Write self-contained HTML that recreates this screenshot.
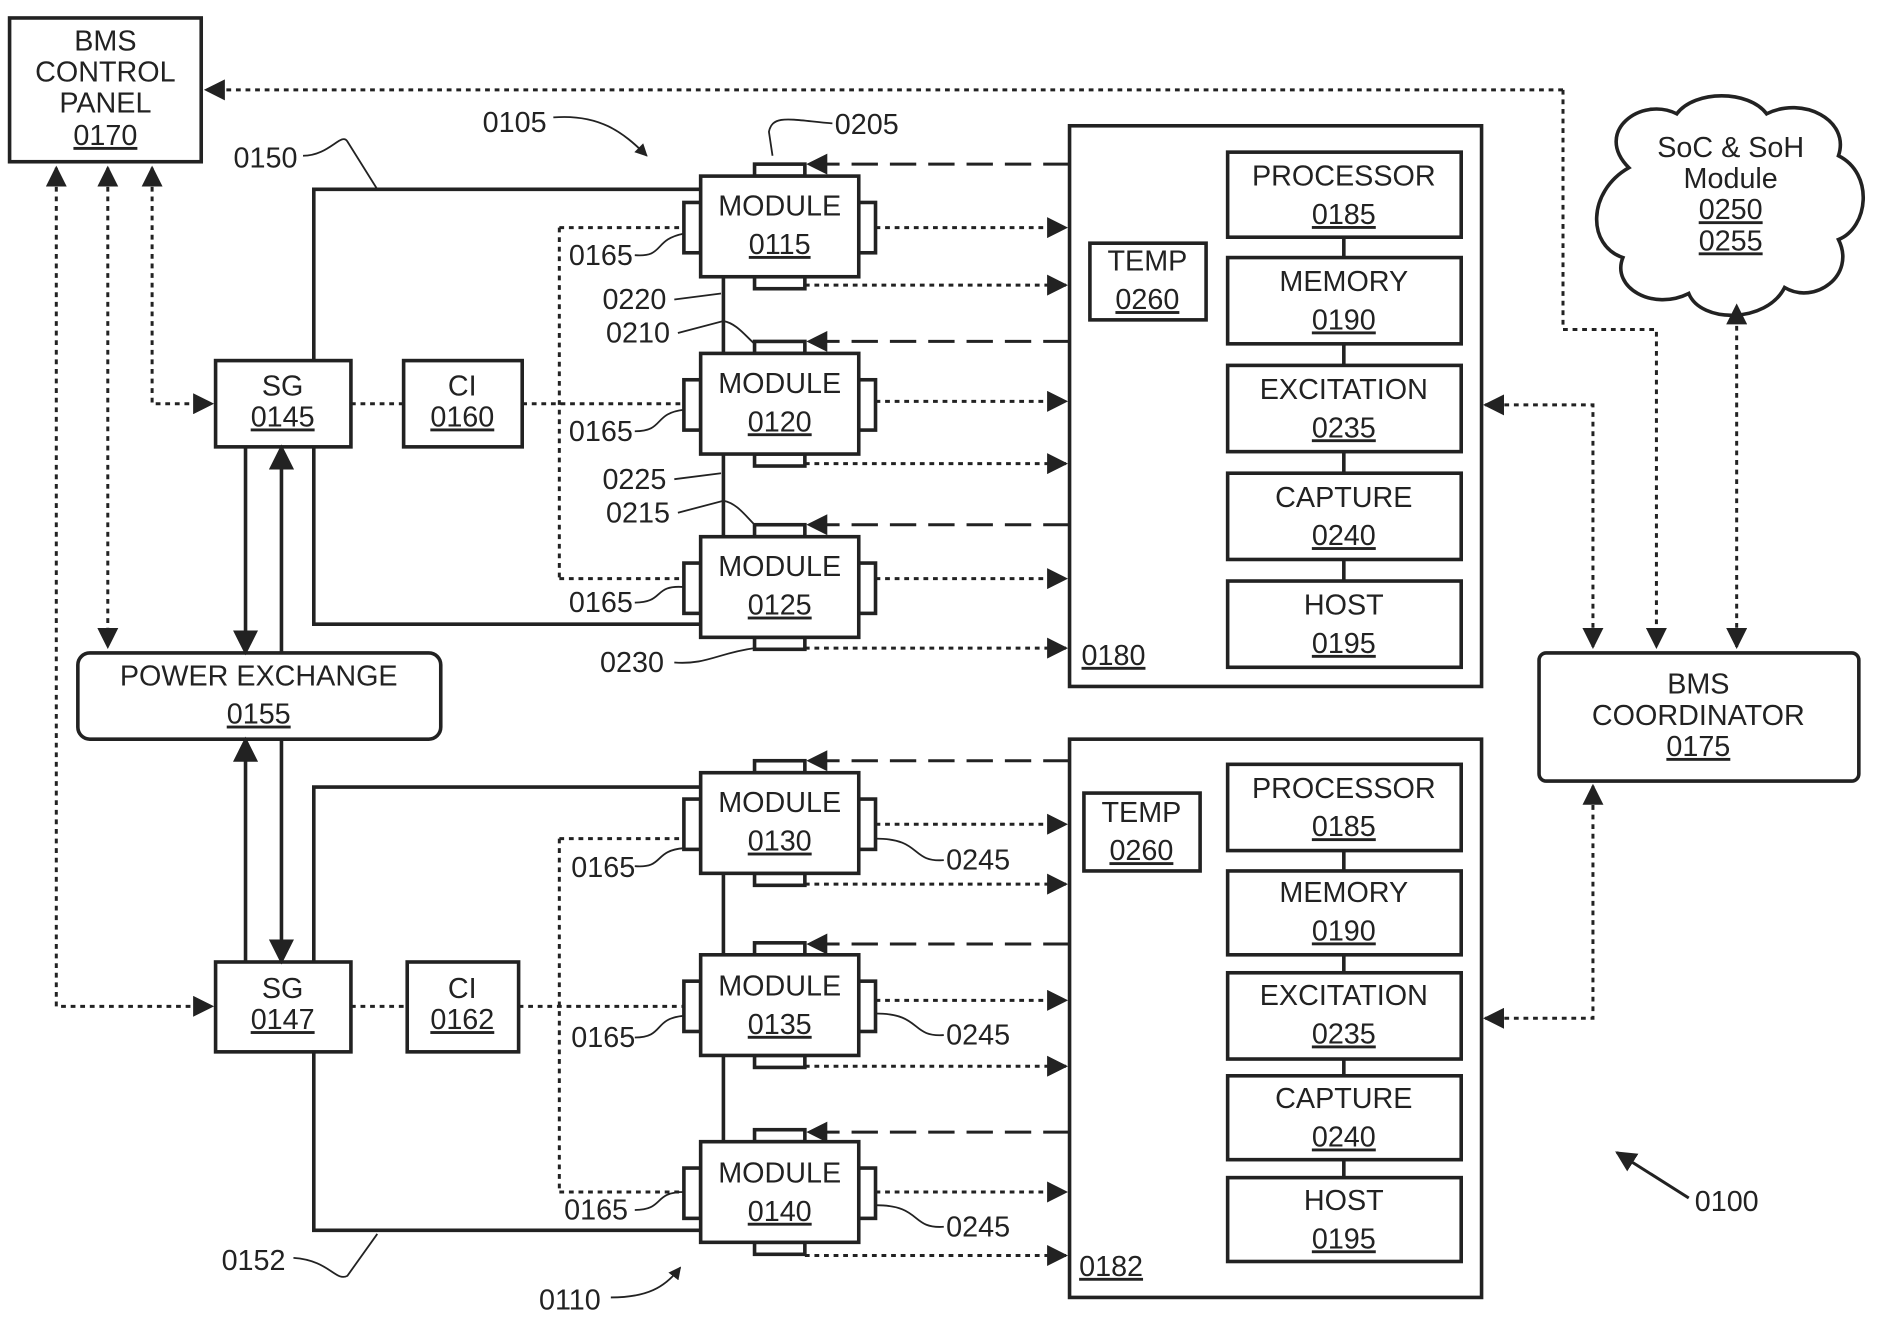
<!DOCTYPE html>
<html><head><meta charset="utf-8"><style>
html,body{margin:0;padding:0;background:#fff;}
svg{display:block;}
text{font-family:"Liberation Sans",sans-serif;font-size:24px;fill:#222;}
.u{text-decoration:underline;}
</style></head><body>
<svg width="1878" height="1319" viewBox="0 0 1568 1101" preserveAspectRatio="none" xmlns="http://www.w3.org/2000/svg">
<defs>
<marker id="a" viewBox="0 0 10 10" refX="9" refY="5" markerWidth="7" markerHeight="7" orient="auto-start-reverse"><path d="M0,0 L10,5 L0,10 z" fill="#222"/></marker>
<g id="m"><rect x="630" y="-10" width="42" height="10"/><rect x="630" y="84" width="42" height="10"/><rect x="571" y="22" width="14" height="42"/><rect x="717" y="22" width="14" height="42"/><rect x="585" y="0" width="132" height="84"/></g>
</defs>
<g fill="none" stroke="#222" stroke-width="3">
<rect x="8" y="15" width="160" height="120"/>
<rect x="893" y="105" width="344" height="468"/>
<rect x="893" y="617" width="344" height="466"/>
<rect x="1285" y="545" width="267" height="107" rx="6"/>
<rect x="65" y="545" width="303" height="72" rx="10"/>
<rect x="180" y="301" width="113" height="72"/>
<rect x="337" y="301" width="99" height="72"/>
<rect x="180" y="803" width="113" height="75"/>
<rect x="340" y="803" width="93" height="75"/>
<rect x="910" y="203" width="97" height="64"/>
<rect x="905" y="662" width="97" height="65"/>
<rect x="1025" y="127" width="195" height="71"/><rect x="1025" y="215" width="195" height="72"/><rect x="1025" y="305" width="195" height="72"/><rect x="1025" y="395" width="195" height="72"/><rect x="1025" y="485" width="195" height="72"/>
<rect x="1025" y="638" width="195" height="72"/><rect x="1025" y="727" width="195" height="70"/><rect x="1025" y="812" width="195" height="72"/><rect x="1025" y="898" width="195" height="70"/><rect x="1025" y="983" width="195" height="70"/>
<path d="M1122,198V215M1122,287V305M1122,377V395M1122,467V485M1122,710V727M1122,797V812M1122,884V898M1122,968V983"/>
<path d="M1360,140 C1330,110 1370,80 1400,95 C1415,75 1460,75 1475,95 C1505,80 1545,100 1535,130 C1565,145 1560,190 1535,200 C1550,230 1515,255 1490,240 C1475,270 1420,270 1410,245 C1380,260 1345,240 1355,215 C1325,205 1325,160 1360,140 Z"/>
<path d="M262,301V158H585M262,373V521H585M262,803V657H585M262,878V1027H585"/>
<path d="M604,231V448M604,729V953"/>
<path d="M205,373V545" marker-end="url(#a)"/>
<path d="M235,545V373" marker-end="url(#a)"/>
<path d="M205,803V617" marker-end="url(#a)"/>
<path d="M235,617V803" marker-end="url(#a)"/>
</g>
<g fill="#fff" stroke="#222" stroke-width="3">
<use href="#m" y="147"/><use href="#m" y="295"/><use href="#m" y="448"/><use href="#m" y="645"/><use href="#m" y="797"/><use href="#m" y="953"/>
</g>
<g fill="none" stroke="#222" stroke-width="2.5" stroke-dasharray="4,4">
<path d="M1305,75H172" marker-end="url(#a)"/>
<path d="M1305,75V275H1383V540" marker-end="url(#a)"/>
<path d="M1450,540V255" marker-start="url(#a)" marker-end="url(#a)"/>
<path d="M1330,540V338H1240" marker-start="url(#a)" marker-end="url(#a)"/>
<path d="M1330,656V850H1240" marker-start="url(#a)" marker-end="url(#a)"/>
<path d="M47,140V840H177" marker-start="url(#a)" marker-end="url(#a)"/>
<path d="M90,140V540" marker-start="url(#a)" marker-end="url(#a)"/>
<path d="M127,140V337H177" marker-start="url(#a)" marker-end="url(#a)"/>
<path d="M293,337H337M436,337H571M467,190H571M467,483H571M467,190V483"/>
<path d="M293,840H340M433,840H571M467,700H571M467,995H571M467,700V995"/>
<path d="M731,190H890" marker-end="url(#a)"/>
<path d="M672,238H890" marker-end="url(#a)"/>
<path d="M731,335H890" marker-end="url(#a)"/>
<path d="M672,387H890" marker-end="url(#a)"/>
<path d="M731,483H890" marker-end="url(#a)"/>
<path d="M672,541H890" marker-end="url(#a)"/>
<path d="M731,688H890" marker-end="url(#a)"/>
<path d="M672,738H890" marker-end="url(#a)"/>
<path d="M731,835H890" marker-end="url(#a)"/>
<path d="M672,890H890" marker-end="url(#a)"/>
<path d="M731,995H890" marker-end="url(#a)"/>
<path d="M672,1048H890" marker-end="url(#a)"/>
</g>
<g fill="none" stroke="#222" stroke-width="2.5" stroke-dasharray="22,10">
<path d="M893,137H675" marker-end="url(#a)"/>
<path d="M893,285H675" marker-end="url(#a)"/>
<path d="M893,438H675" marker-end="url(#a)"/>
<path d="M893,635H675" marker-end="url(#a)"/>
<path d="M893,788H675" marker-end="url(#a)"/>
<path d="M893,945H675" marker-end="url(#a)"/>
</g>
<g fill="none" stroke="#222" stroke-width="1.5">
<path d="M462,98 C500,95 520,110 540,130" marker-end="url(#a)"/>
<path d="M253,130 C275,130 285,110 290,118 L315,158"/>
<path d="M695,103 C660,100 645,95 642,110 L645,130"/>
<path d="M530,213 C555,215 545,200 571,195M530,360 C555,360 545,345 571,342M530,503 C555,503 545,488 571,490M530,723 C555,725 545,710 571,708M530,866 C555,866 545,850 571,848M530,1010 C555,1010 545,995 571,995"/>
<path d="M563,250 L602,245 M566,278 L604,268 C615,270 622,280 630,287"/>
<path d="M563,400 L602,395 M566,428 L604,418 C615,420 622,430 630,438"/>
<path d="M563,553 C590,555 600,545 630,541"/>
<path d="M788,718 C760,720 770,700 731,700M788,864 C760,866 770,846 731,846M788,1024 C760,1026 770,1006 731,1006"/>
<path d="M245,1050 C275,1052 280,1070 290,1065 L315,1030"/>
<path d="M510,1083 C540,1083 555,1075 568,1058" marker-end="url(#a)"/>
<path d="M1410,1000 L1350,962" stroke-width="2.5" marker-end="url(#a)"/>
</g>
<g text-anchor="middle">
<text x="88" y="42">BMS</text><text x="88" y="68">CONTROL</text><text x="88" y="94">PANEL</text><text x="88" y="121" class="u">0170</text>
<text x="1445" y="131">SoC &amp; SoH</text><text x="1445" y="157">Module</text><text x="1445" y="183" class="u">0250</text><text x="1445" y="209" class="u">0255</text>
<text x="1418" y="579">BMS</text><text x="1418" y="605">COORDINATOR</text><text x="1418" y="631" class="u">0175</text>
<text x="216" y="572">POWER EXCHANGE</text><text x="216" y="604" class="u">0155</text>
<text x="236" y="330">SG</text><text x="236" y="356" class="u">0145</text>
<text x="386" y="330">CI</text><text x="386" y="356" class="u">0160</text>
<text x="236" y="833">SG</text><text x="236" y="859" class="u">0147</text>
<text x="386" y="833">CI</text><text x="386" y="859" class="u">0162</text>
<text x="958" y="226">TEMP</text><text x="958" y="258" class="u">0260</text>
<text x="953" y="686">TEMP</text><text x="953" y="718" class="u">0260</text>
<text x="651" y="180">MODULE</text><text x="651" y="212" class="u">0115</text>
<text x="651" y="328">MODULE</text><text x="651" y="360" class="u">0120</text>
<text x="651" y="481">MODULE</text><text x="651" y="513" class="u">0125</text>
<text x="651" y="678">MODULE</text><text x="651" y="710" class="u">0130</text>
<text x="651" y="831">MODULE</text><text x="651" y="863" class="u">0135</text>
<text x="651" y="987">MODULE</text><text x="651" y="1019" class="u">0140</text>
<text x="1122" y="155">PROCESSOR</text><text x="1122" y="187" class="u">0185</text>
<text x="1122" y="243">MEMORY</text><text x="1122" y="275" class="u">0190</text>
<text x="1122" y="333">EXCITATION</text><text x="1122" y="365" class="u">0235</text>
<text x="1122" y="423">CAPTURE</text><text x="1122" y="455" class="u">0240</text>
<text x="1122" y="513">HOST</text><text x="1122" y="545" class="u">0195</text>
<text x="1122" y="666">PROCESSOR</text><text x="1122" y="698" class="u">0185</text>
<text x="1122" y="753">MEMORY</text><text x="1122" y="785" class="u">0190</text>
<text x="1122" y="839">EXCITATION</text><text x="1122" y="871" class="u">0235</text>
<text x="1122" y="925">CAPTURE</text><text x="1122" y="957" class="u">0240</text>
<text x="1122" y="1010">HOST</text><text x="1122" y="1042" class="u">0195</text>
</g>
<text x="903" y="555" class="u">0180</text>
<text x="901" y="1065" class="u">0182</text>
<text x="403" y="110">0105</text>
<text x="195" y="140">0150</text>
<text x="697" y="112">0205</text>
<text x="475" y="221">0165</text><text x="475" y="368">0165</text><text x="475" y="511">0165</text>
<text x="477" y="732">0165</text><text x="477" y="874">0165</text><text x="471" y="1018">0165</text>
<text x="503" y="258">0220</text><text x="506" y="286">0210</text>
<text x="503" y="408">0225</text><text x="506" y="436">0215</text>
<text x="501" y="561">0230</text>
<text x="790" y="726">0245</text><text x="790" y="872">0245</text><text x="790" y="1032">0245</text>
<text x="185" y="1060">0152</text>
<text x="450" y="1093">0110</text>
<text x="1415" y="1011">0100</text>
</svg>
</body></html>
